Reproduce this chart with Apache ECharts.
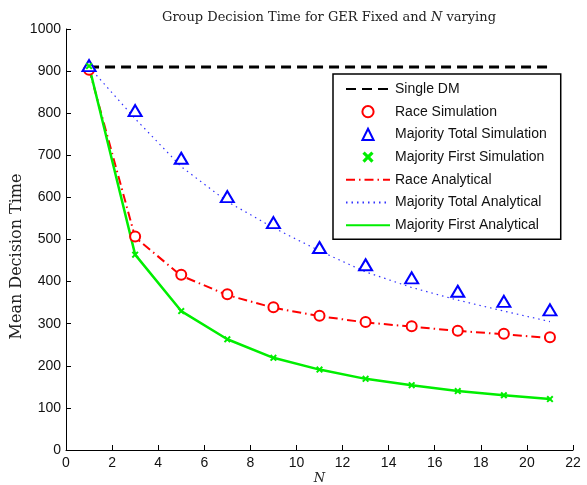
<!DOCTYPE html>
<html>
<head>
<meta charset="utf-8">
<script src="https://cdn.jsdelivr.net/npm/echarts@6/dist/echarts.min.js"></script>
<style>
    html, body { margin: 0; padding: 0; background: #fff; }
    #myChart { width: 587px; height: 485px; }
</style>
</head>
<body>
<div id="myChart"></div>
<script>
    // group sizes N (odd values used by the simulations)
    const nValues = [1, 3, 5, 7, 9, 11, 13, 15, 17, 19, 21]
    const singleDmN = [1, 21]
    const singleDm = [910, 910]

    // simulation markers
    const raceSim = [903, 507, 416, 370, 339, 319, 304, 294, 283, 276, 268]
    const majTotalSim = [913, 806, 693, 602, 540, 481, 440, 409, 377, 353, 333]
    const majFirstSim = [912, 464, 330, 263, 219, 191, 169, 154, 140, 130, 121]

    // analytical curves
    const raceAna = [905, 505, 414, 368, 338, 318, 303, 293, 283, 275, 266]
    const majTotalAna = [910, 787, 673, 590, 528, 473, 423, 386, 356, 330, 305]
    const majFirstAna = [912, 464, 330, 263, 219, 191, 169, 154, 140, 130, 121]

    const xTicks = { min: 0, max: 22, step: 2 }
    const yTicks = { min: 0, max: 1000, step: 100 }

    function pairs(xs, ys) {
        return xs.map((x, i) => [x, ys[i]])
    }

    const sansFont = '"Liberation Sans", Arial, sans-serif'
    const serifFont = '"DejaVu Serif", "Liberation Serif", serif'
    const crossPath = 'path://M0,2 L2,0 L5,3 L8,0 L10,2 L7,5 L10,8 L8,10 L5,7 L2,10 L0,8 L3,5 Z'

    // line-only legend entries: hide the symbol ECharts puts in the middle
    function lineItem(name) {
        return { name: name, itemStyle: { opacity: 0 } }
    }

    let myChart = echarts.init(document.getElementById('myChart'))
    myChart.setOption({
        backgroundColor: '#fff',
        animation: false,
        title: {
            text: '{a|Group Decision Time for GER Fixed and }{b|N}{a| varying}',
            left: 157,
            top: 6,
            textStyle: {
                rich: {
                    a: { fontFamily: serifFont, fontSize: 13, fontWeight: 'normal', color: '#222' },
                    b: { fontFamily: serifFont, fontSize: 13, fontWeight: 'normal', fontStyle: 'italic', color: '#222' }
                }
            }
        },
        legend: {
            orient: 'vertical',
            left: 333,
            top: 74,
            padding: [8, 14, 7, 12],
            itemWidth: 44,
            itemHeight: 14,
            itemGap: 8.7,
            borderColor: '#000',
            borderWidth: 1.5,
            backgroundColor: '#fff',
            textStyle: { fontFamily: sansFont, fontSize: 14, color: '#111' },
            data: [lineItem('Single DM'), 'Race Simulation', 'Majority Total Simulation', 'Majority First Simulation',
                lineItem('Race Analytical'), lineItem('Majority Total Analytical'), lineItem('Majority First Analytical')]
        },
        grid: {
            left: 66,
            right: 14,
            top: 29,
            bottom: 35,
            containLabel: false,
            outerBoundsMode: 'none'
        },
        xAxis: {
            type: 'value',
            min: xTicks.min,
            max: xTicks.max,
            interval: xTicks.step,
            name: 'N',
            nameLocation: 'middle',
            nameGap: 22,
            nameMoveOverlap: false,
            nameTextStyle: { fontFamily: serifFont, fontSize: 13, fontStyle: 'italic', color: '#222' },
            splitLine: { show: false },
            axisLine: { lineStyle: { color: '#000', width: 1 } },
            axisTick: { inside: true, length: 5, lineStyle: { color: '#000' } },
            axisLabel: { fontFamily: sansFont, fontSize: 14, color: '#111', margin: 6 }
        },
        yAxis: {
            type: 'value',
            min: yTicks.min,
            max: yTicks.max,
            interval: yTicks.step,
            name: 'Mean Decision Time',
            nameLocation: 'middle',
            nameGap: 41,
            nameMoveOverlap: false,
            nameTextStyle: { fontFamily: serifFont, fontSize: 16, color: '#222', padding: [0, 34, 0, 0] },
            splitLine: { show: false },
            axisLine: { show: true, lineStyle: { color: '#000', width: 1 } },
            axisTick: { show: true, inside: true, length: 5, lineStyle: { color: '#000' } },
            axisLabel: {
                fontFamily: sansFont,
                fontSize: 14,
                color: '#111',
                margin: 5,
                formatter: function (v) {
                    return String(v)
                }
            }
        },
        series: [{
                name: 'Single DM',
                type: 'line',
                symbol: 'none',
                data: pairs(singleDmN, singleDm),
                lineStyle: { color: '#000', width: 3, type: [10, 6] },
                itemStyle: { color: '#000' }
            },
            {
                name: 'Race Simulation',
                type: 'line',
                symbol: 'emptyCircle',
                symbolSize: 10,
                data: pairs(nValues, raceSim),
                lineStyle: { opacity: 0 },
                itemStyle: { color: '#ff0000', borderColor: '#ff0000', borderWidth: 2.2 }
            },
            {
                name: 'Majority Total Simulation',
                type: 'line',
                symbol: 'emptyTriangle',
                symbolSize: [13, 11],
                data: pairs(nValues, majTotalSim),
                lineStyle: { opacity: 0 },
                itemStyle: { color: '#0000ff', borderColor: '#0000ff', borderWidth: 2.2 }
            },
            {
                name: 'Majority First Simulation',
                type: 'line',
                symbol: crossPath,
                symbolSize: 7,
                data: pairs(nValues, majFirstSim),
                lineStyle: { opacity: 0 },
                itemStyle: { color: '#00ee00' }
            },
            {
                name: 'Race Analytical',
                type: 'line',
                symbol: 'none',
                data: pairs(nValues, raceAna),
                lineStyle: { color: '#ff0000', width: 2, type: [9, 4, 1.5, 4] },
                itemStyle: { color: '#ff0000' }
            },
            {
                name: 'Majority Total Analytical',
                type: 'line',
                symbol: 'none',
                data: pairs(nValues, majTotalAna),
                lineStyle: { color: '#3333ff', width: 1.2, type: [1.5, 4] },
                itemStyle: { color: '#3333ff' }
            },
            {
                name: 'Majority First Analytical',
                type: 'line',
                symbol: 'none',
                data: pairs(nValues, majFirstAna),
                lineStyle: { color: '#00ee00', width: 2.5 },
                itemStyle: { color: '#00ee00' }
            }
        ]
    })
</script>
</body>
</html>
